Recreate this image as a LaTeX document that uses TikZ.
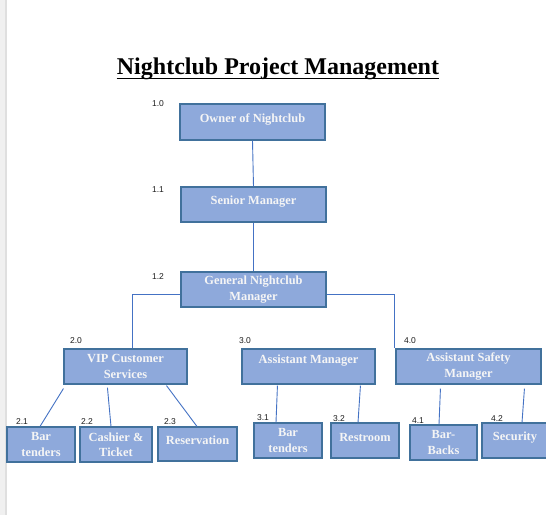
\documentclass[tikz,border=0pt]{standalone}
\usepackage{fontspec}
\setmainfont{Liberation Serif}
\newfontfamily\numfont{Liberation Sans}
\usetikzlibrary{calc}
\definecolor{boxfill}{RGB}{142,169,219}
\definecolor{boxline}{RGB}{65,113,156}
\definecolor{conn}{RGB}{68,114,196}
\definecolor{txt}{RGB}{245,245,245}
\definecolor{numc}{RGB}{30,30,30}
\newcommand{\up}[2]{\raisebox{#1pt}[\height][\depth]{#2}}
\tikzset{
  wbs/.style={draw=boxline, line width=1.1pt, fill=boxfill, text=txt,
    font=\bfseries\fontsize{12.4}{15.5}\selectfont, align=center,
    inner sep=0pt, anchor=center},
  num/.style={font=\numfont\fontsize{8.5}{9}\selectfont, text=numc, inner sep=0pt},
  con/.style={draw=conn, line width=0.9pt},
}
\begin{document}
\begin{tikzpicture}[x=1pt,y=-1pt]
\useasboundingbox (0,0) rectangle (546,515);
\fill[white] (0,0) rectangle (546,515);
\fill[gray!12] (0,0) rectangle (5,515);
\fill[gray!25] (5,0) rectangle (7,515);
% title
\node[inner sep=0pt, anchor=base, font=\bfseries\fontsize{24}{27}\selectfont] (title) at (278,74) {Nightclub Project Management};
\draw[line width=1.6pt] ($(title.base west)+(0,4.5)$) -- ($(title.base east)+(0,4.5)$);
% boxes
\node[wbs, minimum width=145, minimum height=36] (owner) at (252.5,122) {\up{3}{Owner of Nightclub}};
\node[wbs, minimum width=145, minimum height=35] (senior) at (253.5,204.5) {\up{2.5}{Senior Manager}};
\node[wbs, minimum width=145, minimum height=35] (gm) at (253.5,289.5) {General Nightclub\\Manager};
\node[wbs, minimum width=123, minimum height=35] (vip) at (125.5,366.5) {VIP Customer\\Services};
\node[wbs, minimum width=133, minimum height=35] (am) at (308.5,366.5) {\up{6}{Assistant Manager}};
\node[wbs, minimum width=145, minimum height=35] (asm) at (468.5,366.5) {Assistant Safety\\Manager};
\node[wbs, minimum width=68, minimum height=35] (b21) at (41,444.5) {Bar\\tenders};
\node[wbs, minimum width=72, minimum height=35] (b22) at (116,444.5) {Cashier \&\\Ticket};
\node[wbs, minimum width=79, minimum height=34] (b23) at (197.5,444) {\up{3.3}{Reservation}};
\node[wbs, minimum width=68, minimum height=35] (b31) at (288,440.5) {Bar\\tenders};
\node[wbs, minimum width=68, minimum height=35] (b32) at (365,440.5) {\up{3.5}{Restroom}};
\node[wbs, minimum width=67, minimum height=35] (b41) at (443.5,442.5) {Bar-\\Backs};
\node[wbs, minimum width=66, minimum height=35] (b42) at (515,440.5) {\up{3}{Security}};
% numbers
\node[num] (n10) at (158,104) {1.0};
\node[num] (n11) at (158,190) {1.1};
\node[num] (n12) at (158,277) {1.2};
\node[num] (n20) at (76,341) {2.0};
\node[num] (n30) at (245,341) {3.0};
\node[num] (n40) at (410,341) {4.0};
\node[num] (n21) at (22,422) {2.1};
\node[num] (n22) at (87,422) {2.2};
\node[num] (n23) at (170,422) {2.3};
\node[num] (n31) at (263,418) {3.1};
\node[num] (n32) at (339,419) {3.2};
\node[num] (n41) at (418,421) {4.1};
\node[num] (n42) at (497,419) {4.2};
% connectors
\draw[con] (owner.south) -- (senior.north);
\draw[con] (senior.south) -- (gm.north);
\draw[con] ($(gm.west)+(0,4.5)$) -| ($(vip.north)+(6.5,0)$);
\draw[con] ($(gm.south)+(4.5,0)$) -- ($(gm.south)+(4.5,0)$ |- am.north);
\draw[con] ($(gm.east)+(0,4.5)$) -| ($(asm.north west)+(-1,0)$);
\draw[con] ($(vip.south west)+(0,4)$) -- ($(b21.north)+(-1,0)$);
\draw[con] ($(vip.south west)+(44,3)$) -- ($(b22.north)+(-5,0)$);
\draw[con] ($(vip.south west)+(103,1)$) -- ($(b23.north)+(-0.5,0)$);
\draw[con] ($(am.south west)+(36,1)$) -- ($(b31.north)+(-12,0)$);
\draw[con] ($(am.south west)+(119,1)$) -- ($(b32.north)+(-7,0)$);
\draw[con] ($(asm.south west)+(45,4)$) -- ($(b41.north)+(-4.5,0)$);
\draw[con] ($(asm.south west)+(129,4)$) -- ($(b42.north)+(7,0)$);
\end{tikzpicture}
\end{document}
